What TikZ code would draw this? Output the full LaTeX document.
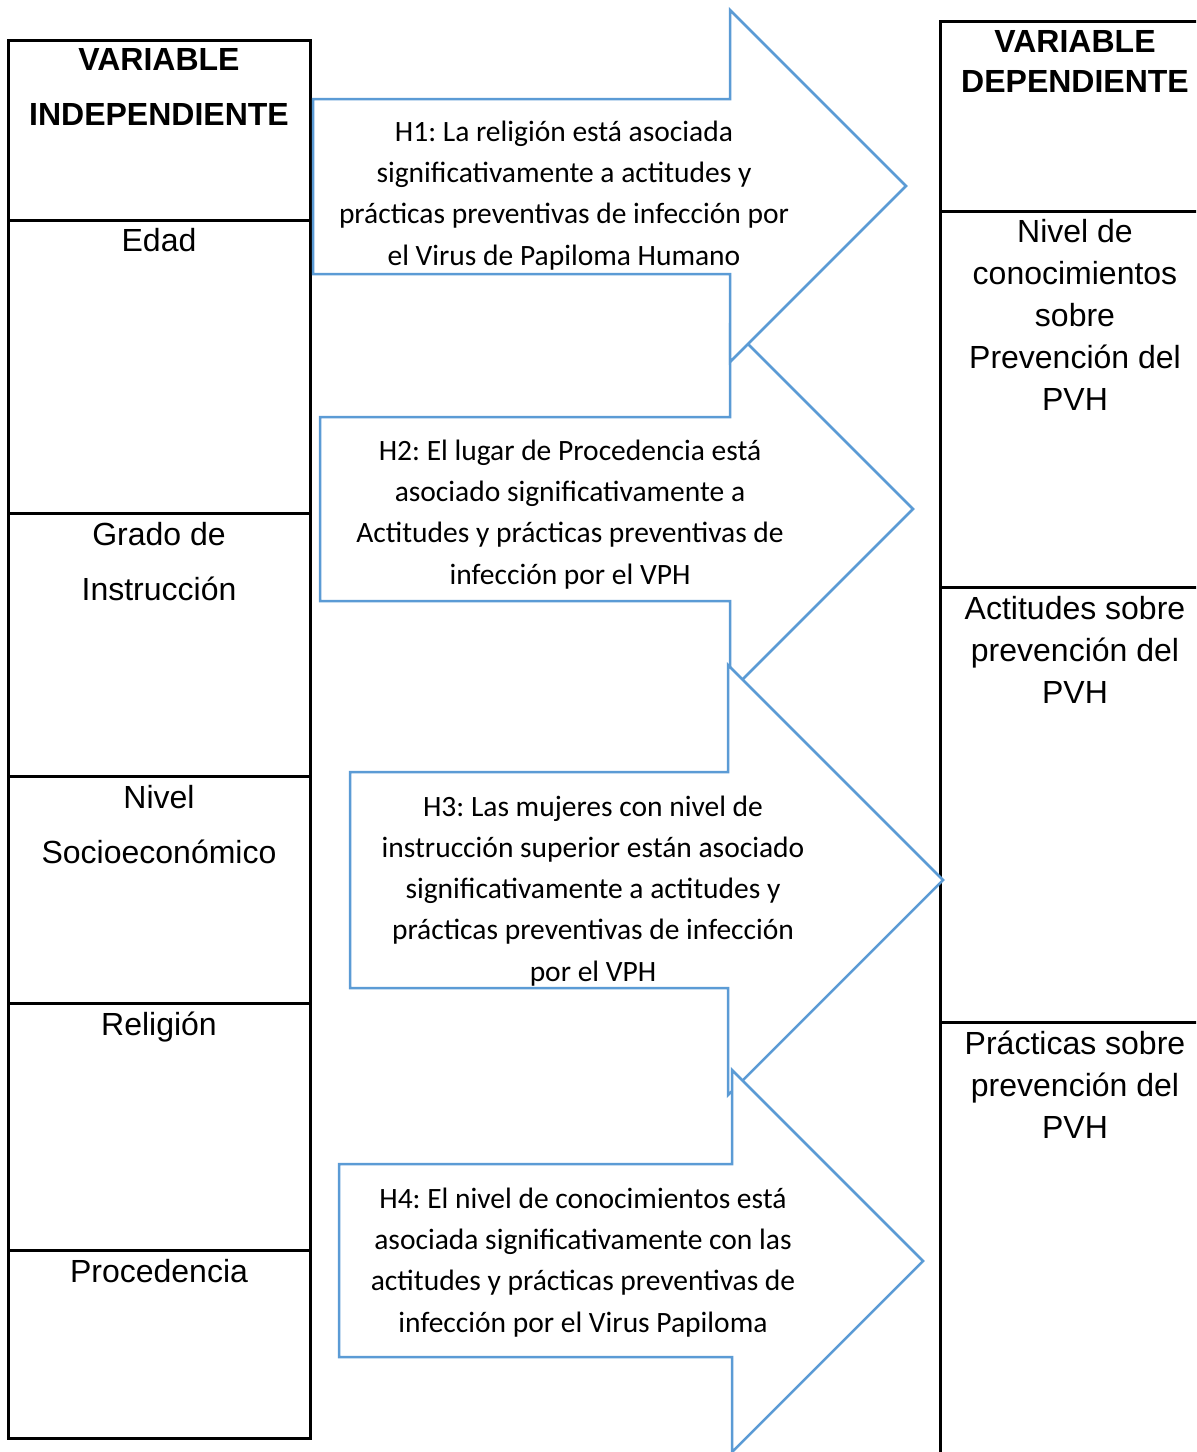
\documentclass[tikz,border=0pt]{standalone}
\usepackage{fontspec}
\setmainfont{Liberation Sans}
\newfontfamily\hypfont{Carlito}
\definecolor{vphblue}{RGB}{91,155,213}
\frenchspacing

\begin{document}
\begin{tikzpicture}[x=0.5pt,y=0.5pt,yscale=-1,xscale=1,
  tableline/.style={draw=black,line width=1.5pt},
  hyparrow/.style={draw=vphblue,fill=white,line width=1.25pt,line join=miter},
  celltext/.style={anchor=base,inner sep=0pt,align=center,font=\fontsize{16}{27.5}\selectfont},
  dcelltext/.style={anchor=base,inner sep=0pt,align=center,font=\fontsize{16}{21}\selectfont},
  hyptext/.style={anchor=base,inner sep=0pt,align=center,font=\hypfont\fontsize{14.75}{20.6}\selectfont}]
\clip (0,0) rectangle (1196,1452);

%Table: variable independiente
\draw [tableline] (8,40) rectangle (310,1438);
\foreach \yrow in {220,513,776,1003,1250}
  \draw [tableline] (8,\yrow) -- (310,\yrow);

%Table: variable dependiente
\draw [tableline] (940,1460) -- (940,21) -- (1200,21);
\foreach \yrow in {211,587,1022}
  \draw [tableline] (940,\yrow) -- (1200,\yrow);

%Shape: Right Arrow H2
\draw [hyparrow] (320,417) -- (730,417) -- (730,326) -- (913,509) -- (730,692) -- (730,601) -- (320,601) -- cycle ;
%Shape: Right Arrow H1
\draw [hyparrow] (313,99) -- (730,99) -- (730,10) -- (906,186) -- (730,362) -- (730,274) -- (313,274) -- cycle ;
%Shape: Right Arrow H3
\draw [hyparrow] (350,772) -- (728,772) -- (728,665) -- (943,880) -- (728,1095) -- (728,988) -- (350,988) -- cycle ;
%Shape: Right Arrow H4
\draw [hyparrow] (339,1164) -- (732,1164) -- (732,1070) -- (923,1261) -- (732,1452) -- (732,1357) -- (339,1357) -- cycle ;

% Text Node: independiente (anchored at the last line)
\node [celltext] (indep) at (159,125) {\textbf{VARIABLE}\\\textbf{INDEPENDIENTE}};
\node [celltext] (edad) at (159,251) {Edad};
\node [celltext] (grado) at (159,600) {Grado de\\Instrucción};
\node [celltext] (nivelse) at (159,863) {Nivel\\Socioeconómico};
\node [celltext] (relig) at (159,1035) {Religión};
\node [celltext] (proced) at (159,1282) {Procedencia};

% Text Node: dependiente
\node [dcelltext] (dep) at (1075,92) {\textbf{VARIABLE}\\[-1pt]\textbf{DEPENDIENTE}};
\node [dcelltext] (conoc) at (1075,410) {Nivel de\\conocimientos\\sobre\\Prevención del\\PVH};
\node [dcelltext] (actit) at (1075,703) {Actitudes sobre\\prevención del\\PVH};
\node [dcelltext] (pract) at (1075,1138) {Prácticas sobre\\prevención del\\PVH};

% Text Node: hipotesis
\node [hyptext] (hone) at (564,265) {H1: La religión está asociada\\significativamente a actitudes y\\prácticas preventivas de infección por\\el Virus de Papiloma Humano};
\node [hyptext] (htwo) at (570,584) {H2: El lugar de Procedencia está\\asociado significativamente a\\Actitudes y prácticas preventivas de\\infección por el VPH};
\node [hyptext] (hthree) at (593,981) {H3: Las mujeres con nivel de\\instrucción superior están asociado\\significativamente a actitudes y\\prácticas preventivas de infección\\por el VPH};
\node [hyptext] (hfour) at (583,1332) {H4: El nivel de conocimientos está\\asociada significativamente con las\\actitudes y prácticas preventivas de\\infección por el Virus Papiloma};

\end{tikzpicture}
\end{document}
